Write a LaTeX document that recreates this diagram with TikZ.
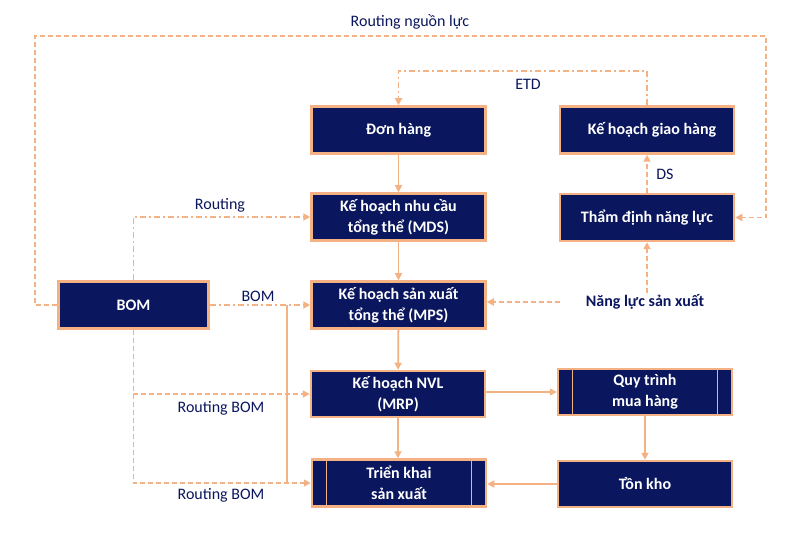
\documentclass[tikz,border=0pt]{standalone}
\usepackage{fontspec}
\setmainfont{Carlito}
\usetikzlibrary{arrows.meta}
\definecolor{navy}{RGB}{10,22,94}
\definecolor{peach}{RGB}{244,178,132}
\begin{document}
\begin{tikzpicture}[x=1pt,y=-1pt,
 box/.style={draw=peach, fill=navy, line width=2.5pt, minimum width=174pt, minimum height=47pt, text=white, font=\bfseries\fontsize{16}{21}\selectfont, align=center, inner sep=2pt},
 conn/.style={draw=peach, line width=1.8pt, -{Triangle[length=7pt,width=7pt]}},
 dconn/.style={conn, dash pattern=on 5pt off 3pt},
 ddconn/.style={conn, dash pattern=on 6pt off 3pt on 2pt off 3pt},
 lbl/.style={text=navy, font=\fontsize{16}{18}\selectfont, inner sep=1pt}
]
\path[use as bounding box] (0,0) rectangle (801,545);

\node[box] (don) at (398.5,130) {Đơn hàng};
\node[box] (kgh) at (647,130) {\hspace*{10pt}Kế hoạch giao hàng};
\node[box] (mds) at (398.5,217) {Kế hoạch nhu cầu\\tổng thể (MDS)};
\node[box] (tdnl) at (647,217.5) {Thẩm định năng lực};
\node[box, minimum width=150pt] (bom) at (133.5,305) {BOM};
\node[box] (mps) at (398.5,305) {Kế hoạch sản xuất\\tổng thể (MPS)};
\node[lbl, font=\bfseries\fontsize{16}{18}\selectfont] (nlsx) at (645,302) {Năng lực sản xuất};
\node[box, minimum height=46pt] (mrp) at (398,394) {Kế hoạch NVL\\(MRP)};
\node[box, minimum height=46pt] (qt) at (645,392) {Quy trình\\mua hàng};
\node[box] (tk) at (399,483) {Triển khai\\sản xuất};
\node[box, minimum height=46pt] (ton) at (645,484) {Tồn kho};

\foreach \n in {qt,tk}{
  \draw[peach, line width=1.2pt] ([xshift=16pt]\n.north west) -- ([xshift=16pt]\n.south west);
  \draw[peach, line width=1.2pt] ([xshift=-16pt]\n.north east) -- ([xshift=-16pt]\n.south east);
}

% solid flow
\draw[conn] (don) -- (mds);
\draw[conn] (mds) -- (mps);
\draw[conn] (mps) -- (mrp);
\draw[conn] (mrp.south) -- (mrp.south |- tk.north);
\draw[conn] (mrp.east |- qt.west) -- (qt.west);
\draw[conn] (qt.south) -- (ton.north);
\draw[conn] (ton.west) -- (ton.west -| tk.east);

% routing nguon luc
\coordinate (rl1) at (35,36);
\coordinate (rl2) at (766,36);
\draw[dconn] (bom.west) -| (rl1) -- (rl2) |- (tdnl.east);
\node[lbl] (lrl) at (410,22) {Routing nguồn lực};

% ETD
\coordinate (etd) at (520,71);
\draw[ddconn] (kgh.north) |- (etd) -| (don.north);
\node[lbl] (letd) at (528,84) {ETD};

% DS
\draw[dconn] (tdnl.north) -- (kgh.south);
\node[lbl] (lds) at (665,174) {DS};

% nang luc san xuat
\draw[dconn] (nlsx.north -| tdnl.south) -- (tdnl.south);
\coordinate (nlw) at (560,302);
\draw[dconn] (nlw) -- (nlw -| mps.east);

% Routing
\draw[ddconn] (bom.north) |- (mds.west);
\node[lbl] (lrt) at (220,205) {Routing};

% BOM
\draw[ddconn] (bom.east) -- (mps.west);
\node[lbl] (lbom) at (258,296) {BOM};
\coordinate (j1) at (287,305);
\coordinate (j2) at (287,483);
\draw[peach, line width=1.8pt] (j1) -- (j2);

% Routing BOM
\draw[dconn] (bom.south) |- (mrp.west);
\node[lbl] (lrb1) at (221,408) {Routing BOM};
\draw[dconn] (bom.south) |- (tk.west);
\node[lbl] (lrb2) at (221,495) {Routing BOM};
\end{tikzpicture}
\end{document}
